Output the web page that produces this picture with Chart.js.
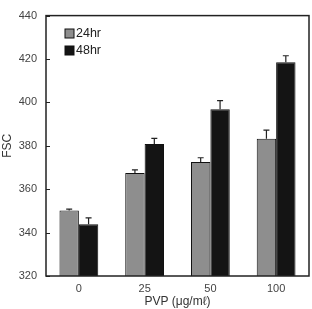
<!DOCTYPE html>
<html>
<head>
    <title>FSC vs PVP</title>
    <script src="https://cdn.jsdelivr.net/npm/chart.js@4"></script>
    <style>
        html, body {
            margin: 0;
            padding: 0;
            background: #fff;
        }
        .wrap {
            width: 312px;
            height: 309px;
        }
    </style>
</head>
<body>
    <div class="wrap"><canvas id="fscChart" width="312" height="309"></canvas></div>
    <script>
        // data
        const doses = ["0", "25", "50", "100"];
        const fsc24 = [350.2, 367.5, 372.5, 383.2];
        const fsc48 = [343.8, 380.8, 396.8, 418.5];
        const err24 = [0.6, 1.4, 2.0, 4.0];
        const err48 = [3.0, 2.6, 4.0, 3.0];
        const yTicks = [320, 340, 360, 380, 400, 420, 440];

        // error bars (upper only) + frame + inward ticks + inside legend
        const figureBits = {
            id: "figureBits",
            afterDatasetsDraw(chart) {
                const ctx = chart.ctx;
                const y = chart.scales.y;
                const area = chart.chartArea;
                const errs = [err24, err48];

                ctx.save();
                ctx.strokeStyle = "#222";
                ctx.lineWidth = 1.2;
                chart.data.datasets.forEach(function (ds, i) {
                    const meta = chart.getDatasetMeta(i);
                    meta.data.forEach(function (bar, j) {
                        const top = y.getPixelForValue(ds.data[j]);
                        const hi = y.getPixelForValue(ds.data[j] + errs[i][j]);
                        ctx.beginPath();
                        ctx.moveTo(bar.x, top);
                        ctx.lineTo(bar.x, hi);
                        ctx.moveTo(bar.x - 3, hi);
                        ctx.lineTo(bar.x + 3, hi);
                        ctx.stroke();
                    });
                });

                // frame
                ctx.lineWidth = 1.5;
                ctx.strokeRect(area.left, area.top, area.right - area.left, area.bottom - area.top);

                // small ticks pointing into the plot
                ctx.lineWidth = 1;
                yTicks.forEach(function (v) {
                    const py = Math.round(y.getPixelForValue(v)) + 0.5;
                    ctx.beginPath();
                    ctx.moveTo(area.left, py);
                    ctx.lineTo(area.left + 4, py);
                    ctx.stroke();
                });

                // legend
                ctx.font = "12.5px 'Liberation Sans', Arial, sans-serif";
                ctx.textBaseline = "middle";
                chart.data.datasets.forEach(function (ds, i) {
                    const ly = 33.5 + i * 17;
                    ctx.fillStyle = ds.backgroundColor;
                    ctx.fillRect(65, ly - 4.5, 9, 9);
                    ctx.strokeStyle = "#111";
                    ctx.lineWidth = 1;
                    ctx.strokeRect(65, ly - 4.5, 9, 9);
                    ctx.fillStyle = "#222";
                    ctx.fillText(ds.label, 76, ly);
                });
                ctx.restore();
            }
        };

        new Chart(document.getElementById("fscChart"), {
            type: "bar",
            data: {
                labels: doses,
                datasets: [
                    {
                        label: "24hr",
                        data: fsc24,
                        backgroundColor: "#8e8e8e",
                        borderColor: "#111",
                        borderWidth: 1
                    },
                    {
                        label: "48hr",
                        data: fsc48,
                        backgroundColor: "#141414",
                        borderColor: "#111",
                        borderWidth: 1
                    }
                ]
            },
            options: {
                responsive: false,
                animation: false,
                layout: { padding: { top: 10, right: 3, left: 0, bottom: 0 } },
                plugins: {
                    legend: { display: false },
                    tooltip: { enabled: false }
                },
                datasets: {
                    bar: { barPercentage: 1.0, categoryPercentage: 0.59 }
                },
                scales: {
                    x: {
                        grid: { display: false, drawTicks: false },
                        border: { display: false },
                        ticks: {
                            color: "#444",
                            padding: 6,
                            font: { family: "'Liberation Sans', Arial, sans-serif", size: 11 }
                        },
                        title: {
                            display: true,
                            text: "PVP (μg/mℓ)",
                            color: "#333",
                            padding: { top: 3, bottom: 0 },
                            font: { family: "'Liberation Sans', Arial, sans-serif", size: 12 }
                        },
                        afterFit: function (s) { s.height = 33; }
                    },
                    y: {
                        min: 320,
                        max: 440,
                        grid: { display: false, drawTicks: false },
                        border: { display: false },
                        afterBuildTicks: function (s) {
                            s.ticks = yTicks.map(function (v) { return { value: v }; });
                        },
                        ticks: {
                            color: "#444",
                            padding: 9,
                            font: { family: "'Liberation Sans', Arial, sans-serif", size: 11 }
                        },
                        title: {
                            display: true,
                            text: "FSC",
                            color: "#333",
                            padding: { top: 0, bottom: 6 },
                            font: { family: "'Liberation Sans', Arial, sans-serif", size: 12 }
                        },
                        afterFit: function (s) { s.width = 46; }
                    }
                }
            },
            plugins: [figureBits]
        });
    </script>
</body>
</html>
